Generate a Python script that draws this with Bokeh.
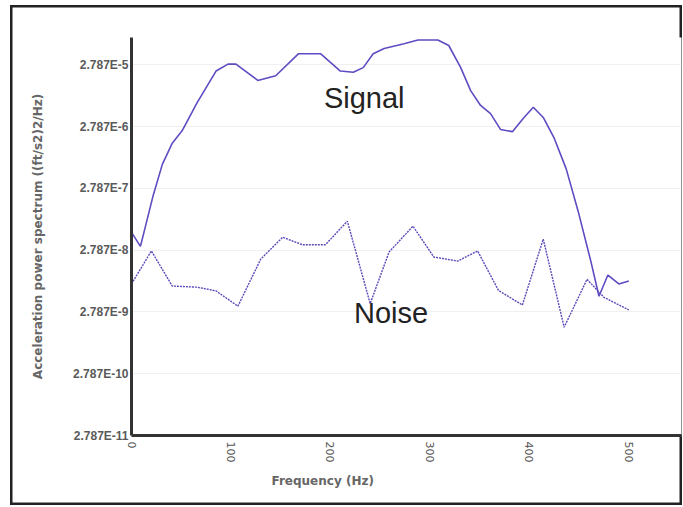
import math
from bokeh.plotting import figure
from bokeh.models import FixedTicker, CustomJSTickFormatter, Label, Range1d, Title
from bokeh.embed import file_html
from bokeh.resources import INLINE

# ---- data ----
signal_freq = [0, 9, 22, 31, 41, 51, 66, 85, 97, 105, 127, 145, 168, 190, 210, 223, 233,
               243, 254, 274, 288, 308, 319, 331, 341, 351, 361, 371, 383, 394, 404, 414,
               425, 437, 449, 462, 470, 479, 490, 500]
signal_psd = [5.4e-8, 3.2e-8, 2.2e-7, 6.8e-7, 1.5e-6, 2.4e-6, 6.8e-6, 2.2e-5, 2.85e-5, 2.85e-5,
              1.55e-5, 1.85e-5, 4.2e-5, 4.2e-5, 2.2e-5, 2.1e-5, 2.5e-5,
              4.2e-5, 5.1e-5, 6.1e-5, 7.0e-5, 7.0e-5, 5.7e-5, 2.5e-5, 1.06e-5, 6.1e-6, 4.5e-6,
              2.5e-6, 2.3e-6, 3.8e-6, 5.7e-6, 3.9e-6, 1.8e-6, 5.8e-7, 1.2e-7, 1.8e-8, 5.0e-9,
              1.1e-8, 7.9e-9, 8.8e-9]

noise_freq = [0, 20, 41, 66, 85, 107, 130, 152, 172, 195, 217, 240, 259, 283, 304, 328, 348,
              369, 393, 414, 435, 458, 475, 500]
noise_psd = [7.9e-9, 2.7e-8, 7.3e-9, 7.0e-9, 6.1e-9, 3.45e-9, 2.0e-8, 4.5e-8, 3.4e-8, 3.4e-8,
             8.2e-8, 3.8e-9, 2.6e-8, 6.8e-8, 2.15e-8, 1.85e-8, 2.7e-8, 6.2e-9, 3.6e-9, 4.2e-8,
             1.57e-9, 9.4e-9, 4.8e-9, 3.0e-9]

y_ticks = [2.787e-11, 2.787e-10, 2.787e-9, 2.787e-8, 2.787e-7, 2.787e-6, 2.787e-5]
y_tick_labels = ["2.787E-11", "2.787E-10", "2.787E-9", "2.787E-8", "2.787E-7", "2.787E-6", "2.787E-5"]
x_ticks = [0, 100, 200, 300, 400, 500]

x_title = "Frequency (Hz)"
y_title = "Acceleration power spectrum ((ft/s2)2/Hz)"

p = figure(width=672, height=500, y_axis_type="log",
           x_range=Range1d(0, 553), y_range=Range1d(2.787e-11, 7.68e-5),
           output_backend="svg", toolbar_location=None,
           min_border_left=121, min_border_right=1, min_border_top=32, min_border_bottom=70)
p.margin = (5, 0, 0, 10)
# outer frame of the picture: inset shadow on the host, visible through a transparent border fill
p.styles = {"box-shadow": "inset 0 0 0 2.5px #222222", "background-color": "white"}
p.outline_line_color = None
p.background_fill_color = "white"
p.border_fill_color = None

p.xgrid.grid_line_color = None
p.ygrid.grid_line_color = "#f0f0f0"
p.ygrid.ticker = FixedTicker(ticks=y_ticks)

# axes
for ax in (p.xaxis[0], p.yaxis[0]):
    ax.axis_line_color = "#333333"
    ax.axis_line_width = 3
    ax.major_tick_line_color = None
    ax.minor_tick_line_color = None
    ax.major_tick_out = 0
    ax.major_tick_in = 0

p.yaxis.ticker = FixedTicker(ticks=y_ticks, minor_ticks=[])
p.yaxis.formatter = CustomJSTickFormatter(args=dict(vals=y_ticks, labels=y_tick_labels), code="""
    for (let i = 0; i < vals.length; i++) {
        if (Math.abs(Math.log10(vals[i] / tick)) < 1e-6) return labels[i];
    }
    return "";
""")
p.yaxis.major_label_text_font = "Liberation Sans"
p.yaxis.major_label_text_font_style = "bold"
p.yaxis.major_label_text_font_size = "12px"
p.yaxis.major_label_text_color = "#5a5a5a"
p.yaxis.major_label_standoff = 3
p.yaxis.axis_label = y_title
p.yaxis.axis_label_text_font = "DejaVu Sans"
p.yaxis.axis_label_text_font_style = "bold"
p.yaxis.axis_label_text_font_size = "12px"
p.yaxis.axis_label_text_color = "#666666"
p.yaxis.axis_label_standoff = 25

p.xaxis.ticker = FixedTicker(ticks=x_ticks, minor_ticks=[])
p.xaxis.major_label_orientation = -math.pi / 2
p.xaxis.major_label_text_font = "DejaVu Sans"
p.xaxis.major_label_text_font_size = "11px"
p.xaxis.major_label_text_color = "#555555"
p.xaxis.major_label_standoff = 6

# x axis title, placed left of centre as in the reference
p.add_layout(Title(text=x_title, align="left", offset=140, standoff=13,
                   text_font="DejaVu Sans", text_font_size="12px", text_font_style="bold",
                   text_color="#666666"), "below")

# lines
p.line(signal_freq, signal_psd, line_color="#5d4cc2", line_width=1.6)
p.line(noise_freq, noise_psd, line_color="#5a4ab8", line_width=1.4, line_dash="2 1")

# annotations
p.add_layout(Label(x=234, y=8.1e-6, text="Signal", text_align="center", text_baseline="alphabetic",
                   text_font="Liberation Sans", text_font_size="29px", text_color="#222222"))
p.add_layout(Label(x=261, y=2.67e-9, text="Noise", text_align="center", text_baseline="alphabetic",
                   text_font="Liberation Sans", text_font_size="29px", text_color="#222222"))

open("out.html", "w").write(file_html(p, INLINE))
